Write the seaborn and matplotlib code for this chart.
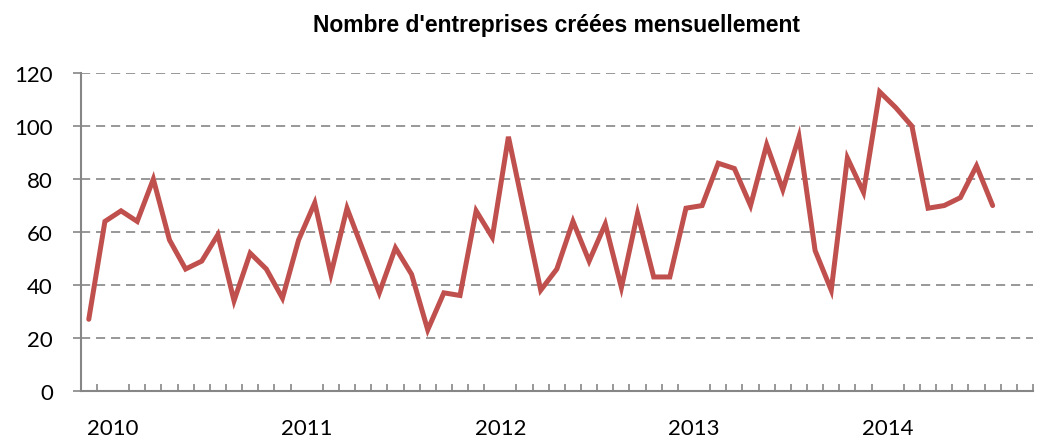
import matplotlib
matplotlib.use("Agg")
import matplotlib.pyplot as plt
import numpy as np
import pandas as pd
import seaborn as sns

# Monthly count of newly created companies (Nov 2009 - Jul 2014)
created = [27, 64, 68, 64, 80, 57, 46, 49, 59, 34, 52, 46,
           35, 57, 71, 44, 69, 53, 37, 54, 44, 23, 37, 36,
           68, 58, 96, 67, 38, 46, 64, 49, 63, 39, 67, 43,
           43, 69, 70, 86, 84, 70, 93, 76, 96, 53, 38, 88,
           75, 113, 107, 100, 69, 70, 73, 85, 70]
n_slots = 59
year_labels = ["2010", "2011", "2012", "2013", "2014"]
year_slots = [2, 14, 26, 38, 50]
y_ticks = [0, 20, 40, 60, 80, 100, 120]
title = "Nombre d'entreprises créées mensuellement"

df = pd.DataFrame({"mois": np.arange(len(created)), "entreprises": created})

sns.set_theme(style="white")
plt.rcParams["font.family"] = ["Lato", "DejaVu Sans"]

axis_grey = "#868686"
fig = plt.figure(figsize=(10.45, 4.39), dpi=100)
left, right = 80.7 / 1045, 1033 / 1045
ax = fig.add_axes([left, 47.3 / 439, right - left, (391.7 - 74.3) / 439])

sns.lineplot(data=df, x="mois", y="entreprises", ax=ax, color="#C0504D",
             linewidth=3.6, solid_joinstyle="miter", zorder=3)

ax.set_xlim(-0.5, n_slots - 0.5)
ax.set_ylim(0, 120)
ax.set_xlabel("")
ax.set_ylabel("")

# Horizontal dashed grid
ax.set_yticks(y_ticks)
ax.set_yticklabels([str(v) for v in y_ticks], fontsize=16, color="black")
ax.yaxis.grid(True, color=axis_grey, linestyle=(0, (5.5, 3.5)), linewidth=1.2)
ax.set_axisbelow(True)
ax.tick_params(axis="y", direction="out", length=6, width=1.2, color=axis_grey, pad=14, left=True)

# Month ticks between categories, year labels at January
ax.set_xticks(np.arange(n_slots + 1) - 0.5, minor=True)
ax.set_xticks([s - 0.5 for s in year_slots])
ax.set_xticklabels(year_labels, fontsize=16, color="black")
ax.tick_params(axis="x", which="major", length=0, pad=20, bottom=True)
ax.tick_params(axis="x", which="minor", direction="in", length=5, width=1.2,
               color=axis_grey, bottom=True)

for side in ("top", "right"):
    ax.spines[side].set_visible(False)
for side in ("left", "bottom"):
    ax.spines[side].set_color(axis_grey)
    ax.spines[side].set_linewidth(1.5)

fig.text((left + right) / 2, 0.942, title, ha="center", va="center", fontsize=16.5,
         fontweight="bold", color="black",
         family=["Liberation Sans Narrow", "Liberation Sans", "DejaVu Sans"],
         fontstretch="condensed")

fig.savefig("out.png", dpi=100)
